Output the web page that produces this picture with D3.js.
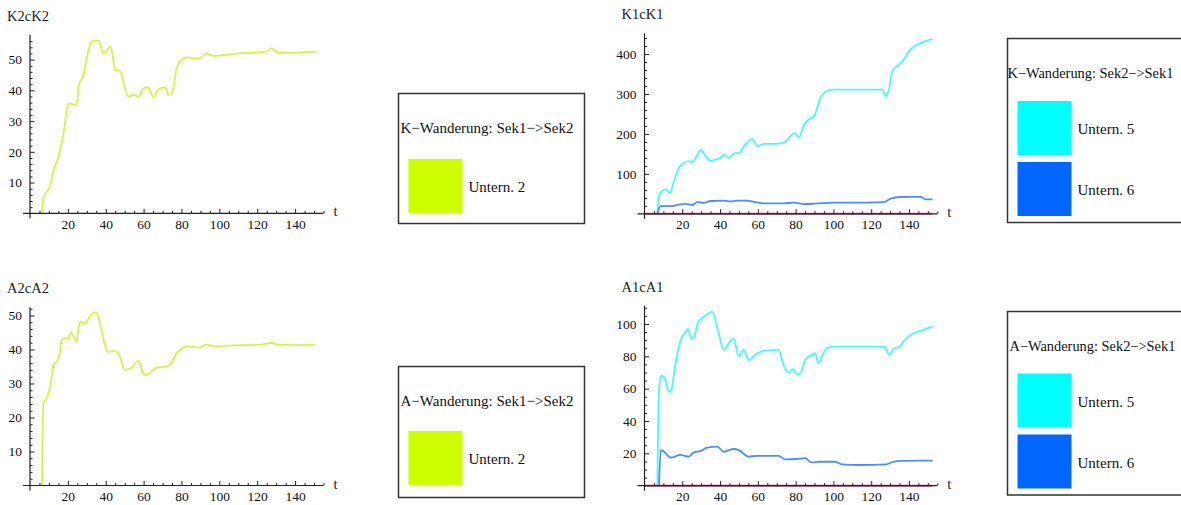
<!DOCTYPE html>
<html>
<head>
<meta charset="utf-8">
<script src="https://cdn.jsdelivr.net/npm/d3@7"></script>
<style>
  body { margin: 0; background: #fff; }
  svg { display: block; font-family: "Liberation Serif", "Times New Roman", serif; }
  .tickText { font-size: 13.5px; fill: #111; font-family: "Liberation Serif", serif; }
  .title { font-size: 14.5px; fill: #222; }
  .legendText { font-size: 15px; fill: #111; }
</style>
</head>
<body>
<div id="chart"></div>
<script>
// values
// K2cK2, Untern. 2
var tK2 = [6.3, 7.1, 10.7, 12.4, 15.1, 17.7, 20.3, 22.1, 23.9, 25.1, 25.6, 28.2, 30.9, 33.5, 36.2, 38.8, 40.2, 42.3, 43.2, 44.9, 47.2, 52, 54.6, 57.3, 59.9, 62.2, 65.2, 67.8, 71.4, 73.1, 74.9, 77.5, 81, 83.7, 86.3, 89.8, 93.4, 96.9, 100.4, 107.5, 116.3, 125, 127.6, 131.2, 139.2, 146.2, 151.5];
var k2Unt2 = [0, 4.9, 9.2, 14.1, 18.4, 26, 35.8, 35.6, 35.2, 36.9, 41.2, 45, 53.1, 56.2, 56.2, 52, 52.6, 54.2, 53.1, 46.6, 46.4, 37.9, 38.5, 37.9, 40.6, 41, 37.9, 40.3, 41, 38.5, 39, 47.2, 50.4, 50.7, 50.4, 50.4, 52, 51.2, 51.3, 51.8, 52.2, 52.6, 53.7, 52.2, 52.2, 52.5, 52.6];

// A2cA2, Untern. 2
var tA2 = [6.3, 7.1, 8.9, 10.7, 12.4, 14.2, 15.6, 16.8, 18.6, 20.3, 21.6, 24.4, 26.5, 29.1, 31.4, 34.4, 35.6, 37.9, 41.1, 44.1, 46.7, 50.2, 53.8, 57.3, 60.3, 62.5, 67, 70.5, 74, 77.2, 80.1, 83.7, 89.8, 93.4, 97.7, 107.4, 121.5, 127.6, 131.2, 142.6, 150.6];
var a2Unt2 = [0, 24.2, 25.7, 29.1, 35.3, 36.5, 38.4, 42.8, 43.3, 43.1, 45.1, 42.4, 48.2, 47.5, 49.7, 50.9, 50.4, 45.3, 39.2, 39.6, 38.9, 34, 34.7, 36.7, 32.5, 32.8, 34.7, 34.8, 35.5, 38.7, 40.2, 40.9, 40.6, 41.4, 40.9, 41.2, 41.4, 41.9, 41.4, 41.3, 41.4];

// K1cK1, Untern. 5 and Untern. 6
var tK1Unt5 = [6.8, 7.6, 9.4, 11.2, 13.5, 15.6, 18.2, 20.9, 23.5, 25.3, 27.1, 29.7, 32.4, 35, 37.6, 40.3, 42.1, 44.4, 47.4, 50, 52.6, 57.1, 59.7, 63.2, 68.5, 73.8, 76.5, 79.1, 81.8, 84.4, 87.1, 89.7, 93.2, 96.8, 100.3, 109.1, 117.9, 125.9, 127.6, 129.4, 131.2, 134.7, 137.3, 140, 143.5, 148.8, 152.5];
var k1Unt5 = [0, 44, 57, 61, 52, 82, 115, 128, 132, 129, 140, 159, 144, 132, 136, 140, 148, 140, 151, 152, 169, 187, 169, 175, 175, 178, 190, 202, 192, 223, 237, 244, 290, 308, 311, 311, 311, 311, 294, 311, 357, 373, 386, 407, 421, 432, 437];
var tK1Unt6 = [6.8, 8.5, 10.3, 13.8, 18.2, 21.8, 25.3, 27.9, 31.5, 35, 42.1, 45.6, 49.1, 54.4, 57.9, 63.2, 73.8, 79.1, 84.4, 91.5, 100.3, 117.9, 126.8, 130.3, 135.6, 140.9, 146.2, 148.8, 152.5];
var k1Unt6 = [0, 19, 19, 19, 23, 25, 22, 29, 27.5, 32, 33, 31, 33, 33, 30, 26, 26, 28, 24, 26, 28, 28, 29, 38, 42, 42.5, 42.5, 36, 36];

// A1cA1, Untern. 5 and Untern. 6
var tA1Unt5 = [6.8, 7.7, 8.9, 10.7, 13, 14.2, 16, 19.1, 21.8, 23, 24.7, 26.2, 28.3, 30.5, 33.2, 35.8, 39.3, 42, 44.6, 47.2, 49.9, 52.5, 55.1, 58.7, 63.1, 71, 73.6, 76.2, 78.9, 80.6, 82.4, 85, 88.5, 90.3, 92.1, 93.8, 96.5, 100, 117.5, 127.2, 129.5, 131.6, 135.1, 137.7, 142.1, 147.4, 152.5];
var a1Unt5 = [0, 60, 68, 66.4, 58, 59, 72.6, 90, 95, 97, 91, 91.5, 101, 103.5, 106, 107.6, 94, 84, 88, 91, 80, 84, 77.7, 81, 83.3, 84, 74.6, 70, 72, 69, 69, 77.7, 80.8, 81.9, 75.7, 79.8, 85, 86, 86, 86, 80.8, 84.5, 86, 90, 94, 96.3, 98.4];
var tA1Unt6 = [7.7, 8.6, 10.3, 13.8, 19.1, 23.5, 26.2, 29.7, 33.2, 38.5, 42, 47.2, 49.9, 55.1, 59.5, 64.8, 71, 74.5, 80.6, 85, 88.5, 92.9, 100.8, 104.4, 114, 128, 131.6, 136.9, 145.7, 152.5];
var a1Unt6 = [0, 22, 21, 17.3, 19, 18, 20.6, 21.4, 23.5, 24.1, 21, 22.7, 22, 18, 18.4, 18.4, 18.4, 16.3, 16.5, 17, 14.4, 14.8, 14.8, 13.2, 12.8, 13.2, 14.8, 15.3, 15.5, 15.5];

// third series lying on zero in the right panels
var tZero = [0, 152.3];
var zeroVals = [0, 0];

// tick values
var xMajor = [20, 40, 60, 80, 100, 120, 140];
var yMajorK2 = [10, 20, 30, 40, 50];
var yMajorK1 = [100, 200, 300, 400];
var yMajorA2 = [10, 20, 30, 40, 50];
var yMajorA1 = [20, 40, 60, 80, 100];

var colUnt2 = "#ccff00";
var colUnt5 = "#00ffff";
var colUnt6 = "#0066ff";

var svgWidth = 1181;
var svgHeight = 505;

var svg = d3.select("#chart")
  .append("svg")
  .attr("width", svgWidth)
  .attr("height", svgHeight);

function zip(ts, vs) {
  return ts.map(function(t, i) { return {t: t, v: vs[i]}; });
}

function drawPanel(p) {
  var x = d3.scaleLinear().domain([0, 155]).range(p.xRange);
  var y = d3.scaleLinear().domain([0, p.yMax]).range(p.yRange);
  var g = svg.append("g");

  // lines first, axes on top
  var line = d3.line()
    .x(function(d) { return x(d.t); })
    .y(function(d) { return y(d.v); })
    .curve(d3.curveMonotoneX);

  p.series.forEach(function(s) {
    g.append("path")
      .datum(zip(s.t, s.v))
      .attr("fill", "none")
      .attr("stroke", s.color)
      .attr("stroke-width", s.width || 1.8)
      .attr("stroke-linejoin", "round")
      .attr("d", line);
  });

  var x0 = x(0), y0 = y(0);

  // minor ticks
  var xMinor = d3.range(5, 156, 5).filter(function(v) { return xMajor.indexOf(v) < 0; });
  var yMinor = d3.range(p.yMinorStep, p.yMax, p.yMinorStep).filter(function(v) {
    return p.yMajor.every(function(m) { return Math.abs(m - v) > 1e-6; });
  });

  g.append("g")
    .attr("transform", `translate(0, ${y0})`)
    .call(d3.axisBottom(x).tickValues(xMinor).tickSize(-2.5).tickFormat("").tickSizeOuter(0));
  g.append("g")
    .attr("transform", `translate(0, ${y0})`)
    .call(d3.axisBottom(x).tickValues(xMajor).tickSize(-4.5).tickPadding(6).tickSizeOuter(0));

  g.append("g")
    .attr("transform", `translate(${x0}, 0)`)
    .call(d3.axisLeft(y).tickValues(yMinor).tickSize(-2.5).tickFormat("").tickSizeOuter(0));
  g.append("g")
    .attr("transform", `translate(${x0}, 0)`)
    .call(d3.axisLeft(y).tickValues(p.yMajor).tickSize(-4.5).tickPadding(8).tickSizeOuter(0));

  // drop d3's default sans-serif and the domain paths
  g.selectAll(".domain").remove();
  g.selectAll("g").attr("font-family", null).attr("font-size", null);
  g.selectAll(".tick line").attr("stroke", "#222");
  g.selectAll(".tick text").attr("class", "tickText");

  // axis lines crossing at the origin
  g.append("line")
    .attr("x1", x0 - 7).attr("x2", x(155))
    .attr("y1", y0).attr("y2", y0)
    .attr("stroke", "#222").attr("stroke-width", 1.2);
  g.append("line")
    .attr("x1", x0).attr("x2", x0)
    .attr("y1", y0 + 5).attr("y2", y(p.yMax))
    .attr("stroke", "#222").attr("stroke-width", 1.2);

  g.append("text")
    .attr("class", "title")
    .attr("x", x0 - 23)
    .attr("y", y(p.yMax) - 14)
    .text(p.title);

  g.append("text")
    .attr("class", "title")
    .attr("x", x(155) + 12)
    .attr("y", y0 + 3)
    .attr("text-anchor", "middle")
    .text("t");
}

function drawLegend(l) {
  var g = svg.append("g");
  g.append("rect")
    .attr("x", l.x).attr("y", l.y)
    .attr("width", l.w).attr("height", l.h)
    .attr("fill", "#fff")
    .attr("stroke", "#333")
    .attr("stroke-width", 1.5);
  g.append("text")
    .attr("class", "legendText")
    .attr("x", l.x + l.titleDx)
    .attr("y", l.y + 39)
    .style("font-size", l.titleSize + "px")
    .text(l.title);
  l.items.forEach(function(it, i) {
    var top = l.y + l.firstDy + i * 61;
    g.append("rect")
      .attr("x", l.x + 10).attr("y", top)
      .attr("width", 54).attr("height", 54)
      .attr("fill", it.color);
    g.append("text")
      .attr("class", "legendText")
      .attr("x", l.x + 70)
      .attr("y", top + 33)
      .text(it.label);
  });
}

drawPanel({
  title: "K2cK2", xRange: [30, 323.5], yRange: [213.3, 35], yMax: 58,
  yMajor: yMajorK2, yMinorStep: 2,
  series: [{t: tK2, v: k2Unt2, color: "#d4f545"}]
});
drawPanel({
  title: "K1cK1", xRange: [644.5, 937.3], yRange: [213.8, 33.2], yMax: 452,
  yMajor: yMajorK1, yMinorStep: 20,
  series: [
    {t: tK1Unt5, v: k1Unt5, color: "#45fbfb"},
    {t: tK1Unt6, v: k1Unt6, color: "#4a8eff"},
    {t: tZero, v: zeroVals, color: "#c25882", width: 2}
  ]
});
drawPanel({
  title: "A2cA2", xRange: [30, 323.5], yRange: [485.5, 307.3], yMax: 52.4,
  yMajor: yMajorA2, yMinorStep: 2,
  series: [{t: tA2, v: a2Unt2, color: "#d4f545"}]
});
drawPanel({
  title: "A1cA1", xRange: [644.5, 937.3], yRange: [485.7, 305.7], yMax: 111.3,
  yMajor: yMajorA1, yMinorStep: 5,
  series: [
    {t: tA1Unt5, v: a1Unt5, color: "#45fbfb"},
    {t: tA1Unt6, v: a1Unt6, color: "#4a8eff"},
    {t: tZero, v: zeroVals, color: "#c25882", width: 2}
  ]
});

drawLegend({x: 398.5, y: 93.5, w: 186, h: 130, titleDx: 2, firstDy: 65.5, titleSize: 15,
  title: "K\u2212Wanderung: Sek1\u2212>Sek2", items: [{color: colUnt2, label: "Untern. 2"}]});
drawLegend({x: 398.5, y: 366.5, w: 186, h: 131, titleDx: 2, firstDy: 64.5, titleSize: 15,
  title: "A\u2212Wanderung: Sek1\u2212>Sek2", items: [{color: colUnt2, label: "Untern. 2"}]});
drawLegend({x: 1007.5, y: 38.5, w: 190, h: 184, titleDx: 0, firstDy: 62.5, titleSize: 14.4,
  title: "K\u2212Wanderung: Sek2\u2212>Sek1", items: [{color: colUnt5, label: "Untern. 5"}, {color: colUnt6, label: "Untern. 6"}]});
drawLegend({x: 1007.5, y: 311.5, w: 190, h: 183.5, titleDx: 2, firstDy: 62, titleSize: 14.4,
  title: "A\u2212Wanderung: Sek2\u2212>Sek1", items: [{color: colUnt5, label: "Untern. 5"}, {color: colUnt6, label: "Untern. 6"}]});
</script>
</body>
</html>
